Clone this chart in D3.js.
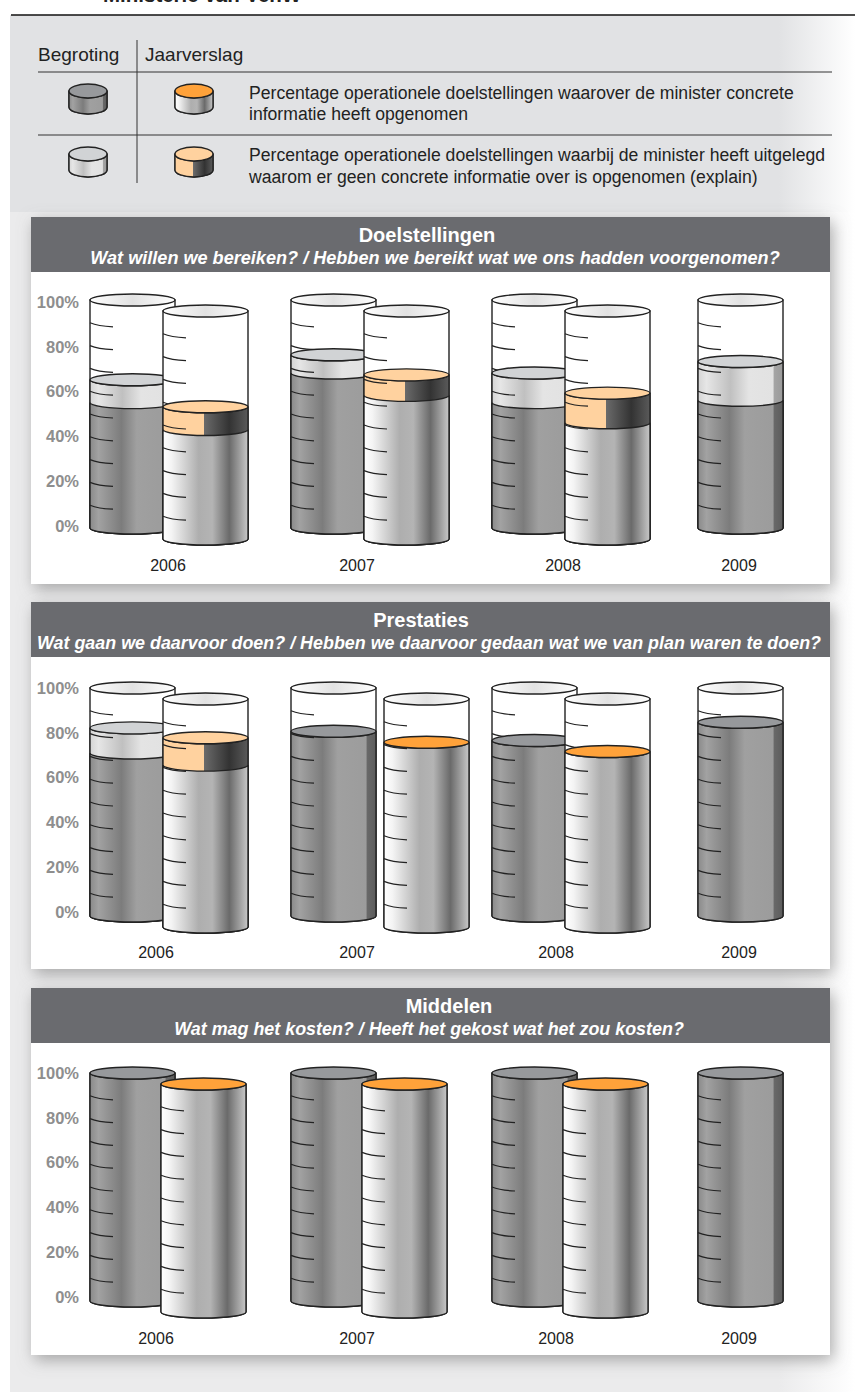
<!DOCTYPE html>
<html>
<head>
<meta charset="utf-8">
<script src="https://cdnjs.cloudflare.com/ajax/libs/d3/7.8.5/d3.min.js"></script>
<style>
  html, body { margin: 0; padding: 0; background: #fff; }
  svg { display: block; font-family: "Liberation Sans", Arial, sans-serif; }
</style>
</head>
<body>
<svg id="chart" width="855" height="1392"></svg>
<script>
// values, null = no cylinder that year
const years = ["2006", "2007", "2008", "2009"];
const percentTicks = [0, 20, 40, 60, 80, 100];
const scaleMarks = [10, 20, 30, 40, 50, 60, 70, 80, 90];

const doelBegConcrete = [55, 68, 55, 56];
const doelBegTotal = [65, 76, 68, 73];
const doelJaarConcrete = [48, 63, 51, null];
const doelJaarTotal = [58, 72, 64, null];

const prestBegConcrete = [71.5, 81, 77, 85];
const prestBegTotal = [82.5, 81, 77, 85];
const prestJaarConcrete = [71, 81, 77, null];
const prestJaarTotal = [83, 81, 77, null];

const middBegConcrete = [100, 100, 100, 100];
const middBegTotal = [100, 100, 100, 100];
const middJaarConcrete = [100, 100, 100, null];
const middJaarTotal = [100, 100, 100, null];

const titles = ["Doelstellingen", "Prestaties", "Middelen"];
const subtitles = [
  "Wat willen we bereiken? / Hebben we bereikt wat we ons hadden voorgenomen?",
  "Wat gaan we daarvoor doen? / Hebben we daarvoor gedaan wat we van plan waren te doen?",
  "Wat mag het kosten? / Heeft het gekost wat het zou kosten?"
];
const legendText = [
  ["Percentage operationele doelstellingen waarover de minister concrete", "informatie heeft opgenomen"],
  ["Percentage operationele doelstellingen waarbij de minister heeft uitgelegd", "waarom er geen concrete informatie over is opgenomen (explain)"]
];

// layout
const CYL_W = 85, CYL_H = 228, RY = 6;
const panels = [
  { top: 217, bottom: 584, base: 528, axis: [526, 302], yearY: 571, titleX: 427, subX: 435, subSize: 18.1, begX: [90, 291, 492, 698], jaarX: [163, 364, 565, null], yearX: [168, 357, 563, 739],
    data: [doelBegConcrete, doelBegTotal, doelJaarConcrete, doelJaarTotal] },
  { top: 602, bottom: 969, base: 916, axis: [912, 688], yearY: 958, titleX: 421, subX: 429, subSize: 17.9, begX: [90, 291, 492, 698], jaarX: [163, 384, 565, null], yearX: [156, 357, 556, 739],
    data: [prestBegConcrete, prestBegTotal, prestJaarConcrete, prestJaarTotal] },
  { top: 988, bottom: 1355, base: 1301, axis: [1297, 1073], yearY: 1344, titleX: 449, subX: 429, subSize: 17.9, begX: [90, 291, 492, 698], jaarX: [161, 362, 563, null], yearX: [156, 357, 556, 739],
    data: [middBegConcrete, middBegTotal, middJaarConcrete, middJaarTotal] }
];

const svg = d3.select("#chart");
const defs = svg.append("defs");

function gradient(id, stops) {
  const g = defs.append("linearGradient").attr("id", id);
  stops.forEach(s => g.append("stop").attr("offset", s[0]).attr("stop-color", s[1]));
}
gradient("bgFade", [[0, "#e1e2e4"], [0.91, "#e1e2e4"], [1, "#ffffff"]]);
gradient("bgFadeLow", [[0, "#ebebec"], [0.91, "#ebebec"], [1, "#ffffff"]]);
gradient("glassTop", [[0, "#ffffff"], [0.5, "#e2e2e2"], [1, "#ffffff"]]);
gradient("begDark", [[0, "#8a8a8a"], [0.1, "#a2a2a2"], [0.37, "#7c7c7c"], [0.55, "#a0a0a0"], [0.88, "#9c9c9c"], [0.9, "#686868"], [1, "#5c5c5c"]]);
gradient("begLight", [[0, "#d4d4d4"], [0.1, "#e6e6e6"], [0.38, "#c0c0c0"], [0.6, "#e4e4e4"], [0.88, "#e2e2e2"], [0.9, "#a4a4a4"], [1, "#9a9a9a"]]);
gradient("jaarBody", [[0, "#ffffff"], [0.1, "#f4f4f4"], [0.42, "#aeaeae"], [0.58, "#b4b4b4"], [0.78, "#6a6a6a"], [1, "#c8c8c8"]]);
gradient("jaarBand", [[0, "#ffd29f"], [0.486, "#ffd29f"], [0.486, "#6a6a6a"], [0.78, "#333333"], [1, "#5a5a5a"]]);

const shadow = defs.append("filter").attr("id", "panelShadow")
  .attr("x", "-5%").attr("y", "-5%").attr("width", "110%").attr("height", "115%");
shadow.append("feDropShadow").attr("dx", 3).attr("dy", 5).attr("stdDeviation", 8)
  .attr("flood-color", "#777").attr("flood-opacity", 0.6);

// page background, title stub and rule
svg.append("rect").attr("x", 10).attr("y", 15).attr("width", 845).attr("height", 197).attr("fill", "url(#bgFade)");
svg.append("rect").attr("x", 10).attr("y", 212).attr("width", 845).attr("height", 1180).attr("fill", "url(#bgFadeLow)");
svg.append("text").attr("x", 103).attr("y", 2).attr("font-size", 20.5).attr("font-weight", "bold").attr("fill", "#222").text("Ministerie van VenW");
svg.append("line").attr("x1", 11).attr("x2", 855).attr("y1", 15).attr("y2", 15).attr("stroke", "#111").attr("stroke-width", 1.5);

// one measuring cylinder; y maps percent to pixels
function cylinder(g, x, y, w, ry, kind, concrete, total, marks) {
  const rx = w / 2;
  const base = y(0), top = y(100);
  const body = (lvl) => `M${x},${y(lvl)} A${rx},${ry} 0 0 0 ${x + w},${y(lvl)} L${x + w},${base} A${rx},${ry} 0 0 1 ${x},${base} Z`;
  const glass = `M${x},${top} L${x},${base} A${rx},${ry} 0 0 0 ${x + w},${base} L${x + w},${top} Z`;
  const line = { stroke: "#222", width: 1.4 };

  g.append("path").attr("d", glass).attr("fill", "#fff").attr("stroke", line.stroke).attr("stroke-width", line.width);

  const isBeg = kind === "beg";
  if (total > concrete) {
    g.append("path").attr("d", body(total))
      .attr("fill", isBeg ? "url(#begLight)" : "url(#jaarBand)")
      .attr("stroke", line.stroke).attr("stroke-width", line.width);
  }
  if (concrete > 0) {
    g.append("path").attr("d", body(concrete))
      .attr("fill", isBeg ? "url(#begDark)" : "url(#jaarBody)")
      .attr("stroke", line.stroke).attr("stroke-width", line.width);
  }

  // scale marks go over the filling
  g.selectAll("path.mark").data(marks).join("path")
    .attr("class", "mark")
    .attr("d", d => `M${x},${y(d)} Q${x + 8},${y(d) + 3.4} ${x + 23},${y(d) + 4}`)
    .attr("fill", "none").attr("stroke", line.stroke).attr("stroke-width", 1.2);

  if (total < 100) {
    g.append("ellipse").attr("cx", x + rx).attr("cy", top).attr("rx", rx).attr("ry", ry)
      .attr("fill", "url(#glassTop)").attr("stroke", line.stroke).attr("stroke-width", line.width);
  }
  const explain = total > concrete;
  const surface = isBeg ? (explain ? "#d1d3d5" : "#97999c") : (explain ? "#ffd29f" : "#ffa23a");
  g.append("ellipse").attr("cx", x + rx).attr("cy", y(total)).attr("rx", rx).attr("ry", ry)
    .attr("fill", surface).attr("stroke", line.stroke).attr("stroke-width", line.width);
}

// legend
const legend = svg.append("g").attr("id", "legend");
legend.append("text").attr("x", 38).attr("y", 61).attr("font-size", 19).attr("fill", "#222").text("Begroting");
legend.append("text").attr("x", 145).attr("y", 61).attr("font-size", 19).attr("fill", "#222").text("Jaarverslag");
legend.append("line").attr("x1", 137).attr("x2", 137).attr("y1", 40).attr("y2", 183).attr("stroke", "#333");
[72, 135].forEach(ly => legend.append("line").attr("x1", 38).attr("x2", 832).attr("y1", ly).attr("y2", ly).attr("stroke", "#333"));

const legendRows = [
  { concrete: 100, total: 100, y: [107, 91], text: [99, 120] },
  { concrete: 0, total: 100, y: [170, 154], text: [161, 183] }
];
legendRows.forEach((row, i) => {
  const ly = d3.scaleLinear().domain([0, 100]).range(row.y);
  cylinder(legend.append("g"), 69, ly, 38, 7, "beg", row.concrete, row.total, []);
  cylinder(legend.append("g"), 175, ly, 38, 7, "jaar", row.concrete, row.total, []);
  legendText[i].forEach((t, j) => legend.append("text").attr("x", 249).attr("y", row.text[j])
    .attr("font-size", 17.6).attr("fill", "#222").text(t));
});

// the three chart panels
panels.forEach((p, pi) => {
  const g = svg.append("g").attr("class", "panel");
  g.append("rect").attr("x", 31).attr("y", p.top).attr("width", 799).attr("height", p.bottom - p.top)
    .attr("fill", "#fff").attr("filter", "url(#panelShadow)");
  g.append("rect").attr("x", 31).attr("y", p.top).attr("width", 799).attr("height", 55).attr("fill", "#6a6b6f");
  g.append("text").attr("x", p.titleX).attr("y", p.top + 25).attr("text-anchor", "middle")
    .attr("font-size", 20).attr("font-weight", "bold").attr("fill", "#fff").text(titles[pi]);
  g.append("text").attr("x", p.subX).attr("y", p.top + 47).attr("text-anchor", "middle")
    .attr("font-size", p.subSize).attr("font-weight", "bold").attr("font-style", "italic").attr("fill", "#fff").text(subtitles[pi]);

  const axisScale = d3.scaleLinear().domain([0, 100]).range(p.axis);
  const axis = g.append("g").attr("transform", "translate(79,0)")
    .call(d3.axisLeft(axisScale).tickValues(percentTicks).tickFormat(d => d + "%").tickSize(0).tickPadding(0));
  axis.select(".domain").remove();
  axis.selectAll("text").attr("font-size", 16.5).attr("font-weight", "bold").attr("fill", "#8e8e8e")
    .style("font-family", '"Liberation Sans", Arial, sans-serif');

  const begX = d3.scaleOrdinal().domain(years).range(p.begX);
  const jaarX = d3.scaleOrdinal().domain(years).range(p.jaarX);
  const yearX = d3.scaleOrdinal().domain(years).range(p.yearX);
  const begY = d3.scaleLinear().domain([0, 100]).range([p.base, p.base - CYL_H]);
  const jaarY = d3.scaleLinear().domain([0, 100]).range([p.base + 11, p.base + 11 - CYL_H]);

  const [begConcrete, begTotal, jaarConcrete, jaarTotal] = p.data;
  years.forEach((yr, i) => {
    cylinder(g.append("g"), begX(yr), begY, CYL_W, RY, "beg", begConcrete[i], begTotal[i], scaleMarks);
    if (jaarTotal[i] !== null) {
      cylinder(g.append("g"), jaarX(yr), jaarY, CYL_W, RY, "jaar", jaarConcrete[i], jaarTotal[i], scaleMarks);
    }
    g.append("text").attr("x", yearX(yr)).attr("y", p.yearY).attr("text-anchor", "middle")
      .attr("font-size", 16).attr("fill", "#222").text(yr);
  });
});
</script>
</body>
</html>
